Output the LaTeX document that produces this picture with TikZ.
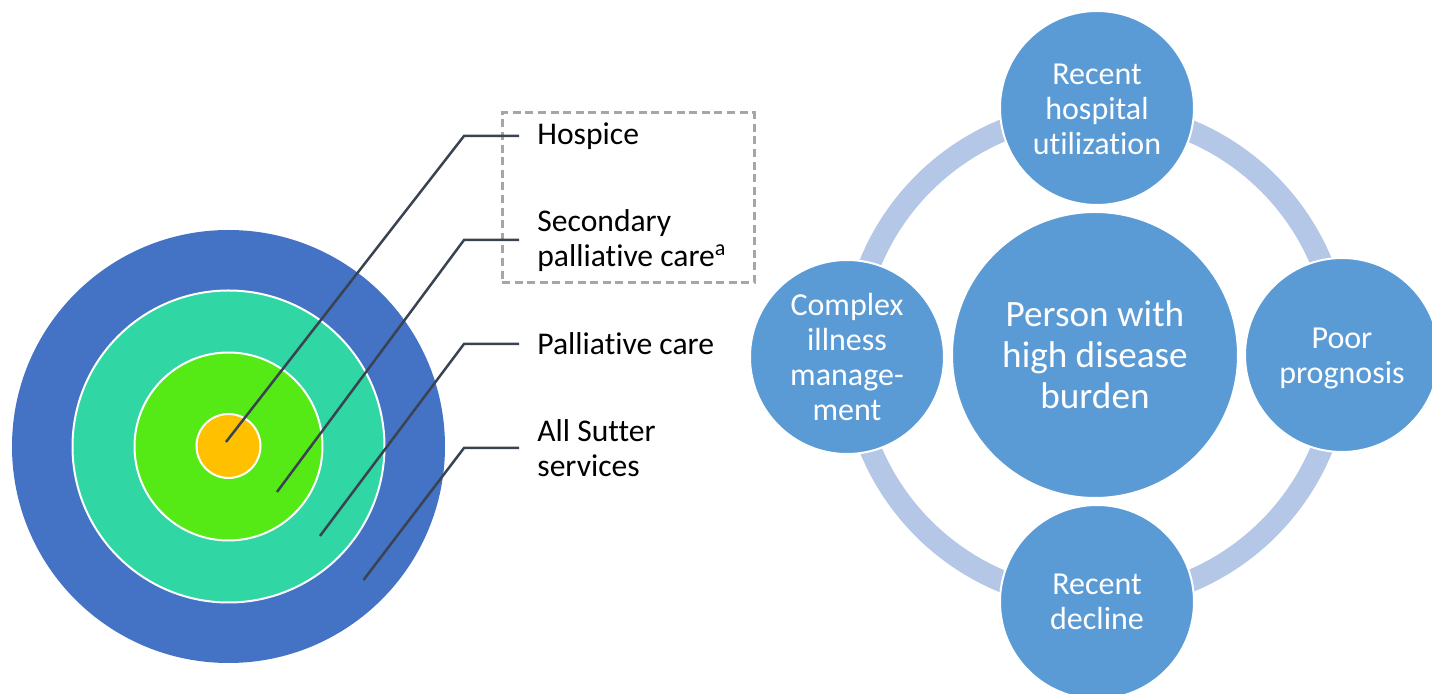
\documentclass[tikz,border=0pt]{standalone}
\usepackage{fontspec}
\setmainfont[Ligatures=NoCommon]{Carlito}
\definecolor{outerblue}{HTML}{4472C4}
\definecolor{teal}{HTML}{30D6A4}
\definecolor{lgreen}{HTML}{55EA16}
\definecolor{orange}{HTML}{FFC000}
\definecolor{leader}{HTML}{3A4350}
\definecolor{boxgray}{HTML}{A6A6A6}
\definecolor{cblue}{HTML}{5B9BD5}
\definecolor{ringc}{HTML}{B4C7E7}
\begin{document}
\begin{tikzpicture}[x=0.5pt,y=-0.5pt,
  ring/.style={circle,inner sep=0pt,outer sep=0pt},
  leadline/.style={draw=leader,line width=1.25pt},
  lab/.style={anchor=west,inner sep=0pt,align=left,font=\fontsize{15.8}{17.2}\selectfont},
  bub/.style={circle,inner sep=0pt,fill=cblue,draw=white,line width=1pt,text=white,align=center,minimum size=97pt,font=\fontsize{16}{17.5}\selectfont},
  bigbub/.style={bub,minimum size=143pt,font=\fontsize{18.6}{20.5}\selectfont}
]
\useasboundingbox (0,0) rectangle (1432,694);
% left target
\node[ring,fill=outerblue,minimum size=216.5pt] (c1) at (228.5,446.5) {};
\node[ring,fill=teal,draw=white,line width=1pt,minimum size=156pt] (c2) at (228.5,446.5) {};
\node[ring,fill=lgreen,draw=white,line width=1pt,minimum size=94pt] (c3) at (228.5,446.5) {};
\node[ring,fill=orange,draw=white,line width=1pt,minimum size=32pt] (c4) at (228.5,446) {};
% dashed box
\node[draw=boxgray,line width=1.5pt,dash pattern=on 4pt off 2.3pt,minimum width=126pt,minimum height=85pt,inner sep=0pt] (box) at (628,198) {};
% labels
\node[lab] (l1) at (537,136) {Hospice};
\node[lab] (l2) at (537,240.5) {Secondary\\palliative care\textsuperscript{a}};
\node[lab] (l3) at (537,344) {Palliative care};
\node[lab] (l4) at (537,448) {All Sutter\\services};
% leader anchor points
\coordinate (p1) at (226,442);
\coordinate (p2) at (277,492);
\coordinate (p3) at (320,536);
\coordinate (p4) at (363.5,580);
\coordinate (k1) at (464,136);
\coordinate (k2) at (464,240);
\coordinate (k3) at (464,344);
\coordinate (k4) at (464,448);
\draw[leadline] (p1) -- (k1) -- ([xshift=-9pt]l1.west);
\draw[leadline] (p2) -- (k2) -- ([xshift=-9pt]l2.west |- k2);
\draw[leadline] (p3) -- (k3) -- ([xshift=-9pt]l3.west);
\draw[leadline] (p4) -- (k4) -- ([xshift=-9pt]l4.west);
% right diagram
\coordinate (rc) at (1096,356);
\draw[ringc,line width=11pt] (rc) circle[radius=122pt];
\node[bigbub] (center) at (1095,355) {Person with\\high disease\\burden};
\node[bub] (top) at (1097,108) {\raisebox{-2.2pt}[\height][\depth]{\begin{tabular}{@{}c@{}}Recent\\hospital\\utilization\end{tabular}}};
\node[bub] (left) at (847,357) {Complex\\illness\\manage-\\ment};
\node[bub] (right) at (1342,355) {\raisebox{-1.8pt}[\height][\depth]{\begin{tabular}{@{}c@{}}Poor\\prognosis\end{tabular}}};
\node[bub] (bottom) at (1097,602) {Recent\\decline};
\end{tikzpicture}
\end{document}
